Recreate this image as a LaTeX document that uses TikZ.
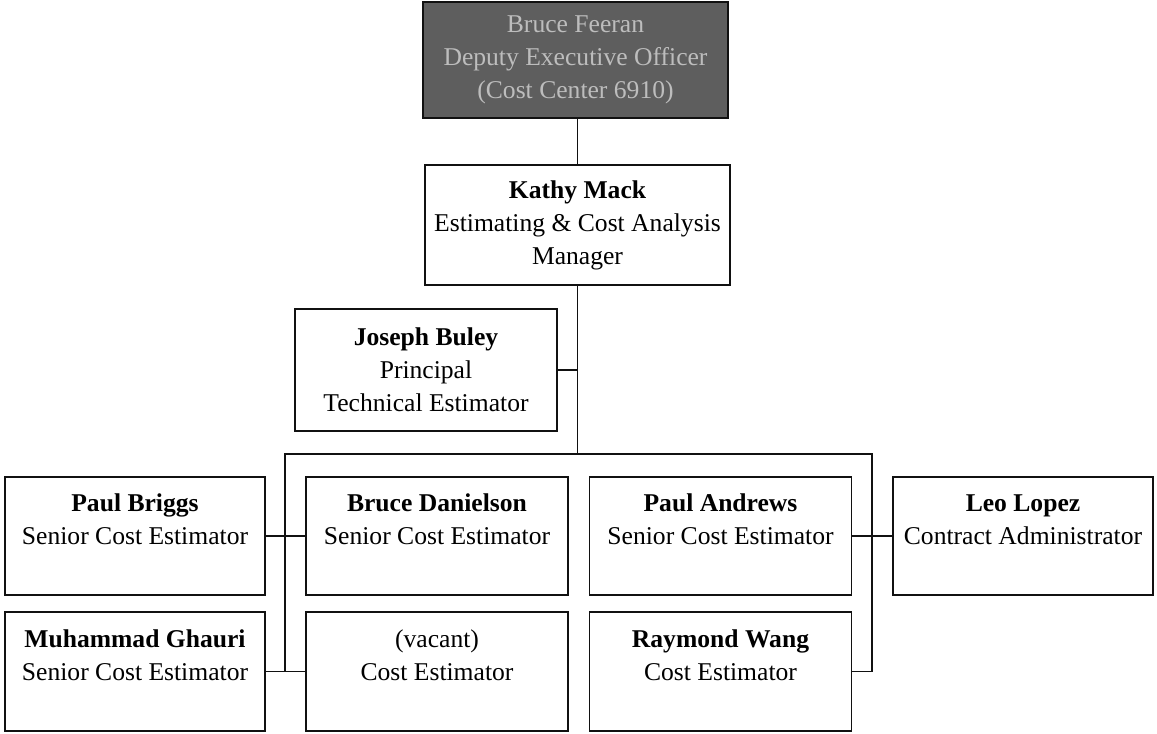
\documentclass[tikz,border=0pt]{standalone}
\usepackage{fontspec}
\setmainfont{Liberation Serif}
\usetikzlibrary{calc}
\definecolor{headfill}{HTML}{5E5E5E}
\definecolor{headtext}{HTML}{BDBDBD}
\definecolor{inkblack}{HTML}{111111}

\begin{document}
\begin{tikzpicture}[
  x=0.75pt, y=-0.75pt,
  font=\fontsize{19.2pt}{24.75pt}\selectfont,
  orgbox/.style={draw=inkblack, line width=1.4pt, align=center, inner sep=0,
                 minimum width=196.5pt, minimum height=88.8pt},
  headbox/.style={orgbox, fill=headfill, text=headtext,
                  minimum width=228.8pt, minimum height=87pt},
  link/.style={inkblack, line width=1.4pt},
]
\useasboundingbox (0,0) rectangle (1157,733);

% =========================== top of the chart ===========================
\node[headbox] (feeran) at (575.5, 60)
  {Bruce Feeran\\Deputy Executive Officer\\(Cost Center 6910)};
\node[orgbox, minimum width=228.8pt, minimum height=90pt] (mack) at (577.5, 225)
  {\textbf{Kathy Mack}\\Estimating \& Cost Analysis\\Manager};
\node[orgbox, minimum height=91.5pt] (buley) at (426, 370)
  {\textbf{Joseph Buley}\\Principal\\Technical Estimator};

% =========================== estimators ===========================
\node[orgbox, minimum width=195pt] (briggs) at (135, 536)
  {\textbf{Paul Briggs}\\Senior Cost Estimator\\\mbox{}};
\node[orgbox] (danielson) at (437, 536)
  {\textbf{Bruce Danielson}\\Senior Cost Estimator\\\mbox{}};
\node[orgbox] (andrews) at (720.5, 536)
  {\textbf{Paul Andrews}\\Senior Cost Estimator\\\mbox{}};
\node[orgbox, minimum width=195pt] (lopez) at (1023, 536)
  {\textbf{Leo Lopez}\\Contract Administrator\\\mbox{}};

\node[orgbox, minimum width=195pt] (ghauri) at (135, 671.5)
  {\textbf{Muhammad Ghauri}\\Senior Cost Estimator\\\mbox{}};
\node[orgbox] (vacant) at (437, 671.5)
  {(vacant)\\Cost Estimator\\\mbox{}};
\node[orgbox] (wang) at (720.5, 671.5)
  {\textbf{Raymond Wang}\\Cost Estimator\\\mbox{}};

% =========================== connectors ===========================
\coordinate (busL) at (285, 454);
\coordinate (busR) at (872, 454);

\draw[link] (mack.north |- feeran.south) -- (mack.north);
\draw[link] (mack.south) -- (mack.south |- busL);
\draw[link] (buley.east) -- (buley.east -| mack.south);
\draw[link] (ghauri.east -| busL) -- (busL) -- (busR) -- (wang.east -| busR) -- (wang.east);
\draw[link] (briggs.east) -- (danielson.west);
\draw[link] (ghauri.east) -- (vacant.west);
\draw[link] (andrews.east) -- (lopez.west);

\end{tikzpicture}
\end{document}
